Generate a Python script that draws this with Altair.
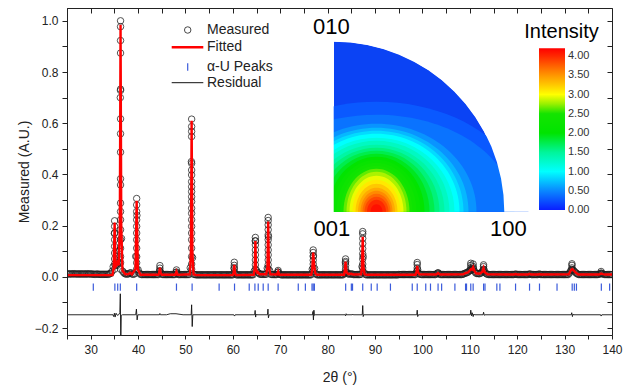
import math
import altair as alt
import pandas as pd

FONT = "Liberation Sans"

# ---------------- axis ticks ----------------
x_ticks = [25, 30, 35, 40, 45, 50, 55, 60, 65, 70, 75, 80, 85, 90, 95, 100,
           105, 110, 115, 120, 125, 130, 135, 140]
y_ticks = [-0.2, -0.1, 0.0, 0.1, 0.2, 0.3, 0.4, 0.5, 0.6, 0.7, 0.8, 0.9, 1.0]

# ---------------- measured scan: 0.25 deg steps, one row per 5 deg ----------------
scan_step = 0.25
scan_rows = {
    25.0: [0.011, 0.012, 0.011, 0.012, 0.011, 0.012, 0.012, 0.011, 0.012, 0.011,
           0.011, 0.012, 0.011, 0.011, 0.012, 0.011, 0.011, 0.012, 0.011, 0.012],
    30.0: [0.011, 0.011, 0.011, 0.010, 0.010, 0.011, 0.011, 0.010, 0.010, 0.010,
           0.010, 0.010, 0.010, 0.010, 0.010, 0.010, 0.012, 0.014, 0.022, 0.040],
    35.0: [0.170, 0.045, 0.050, 0.055, 0.100, 0.700, 0.150, 0.022, 0.016, 0.012,
           0.011, 0.011, 0.012, 0.015, 0.016, 0.011, 0.010, 0.012, 0.080, 0.240],
    40.0: [0.028, 0.015, 0.010, 0.009, 0.009, 0.009, 0.009, 0.009, 0.009, 0.009,
           0.009, 0.009, 0.009, 0.009, 0.009, 0.009, 0.009, 0.009, 0.022, 0.018],
    45.0: [0.010, 0.009, 0.009, 0.009, 0.009, 0.009, 0.009, 0.009, 0.009, 0.009,
           0.009, 0.009, 0.017, 0.013, 0.009, 0.009, 0.009, 0.009, 0.009, 0.009],
    50.0: [0.009, 0.009, 0.009, 0.009, 0.035, 0.450, 0.075, 0.010, 0.009, 0.008,
           0.008, 0.008, 0.008, 0.008, 0.008, 0.008, 0.008, 0.008, 0.008, 0.008],
    55.0: [0.008, 0.008, 0.008, 0.008, 0.008, 0.008, 0.008, 0.008, 0.008, 0.008,
           0.008, 0.008, 0.008, 0.008, 0.008, 0.008, 0.008, 0.008, 0.008, 0.008],
    60.0: [0.008, 0.035, 0.012, 0.008, 0.008, 0.008, 0.008, 0.008, 0.008, 0.008,
           0.008, 0.008, 0.008, 0.008, 0.008, 0.008, 0.008, 0.008, 0.022, 0.140],
    65.0: [0.025, 0.017, 0.014, 0.010, 0.010, 0.010, 0.010, 0.010, 0.010, 0.034,
           0.157, 0.025, 0.010, 0.009, 0.009, 0.009, 0.009, 0.009, 0.019, 0.011],
    70.0: [0.009, 0.008, 0.008, 0.008, 0.008, 0.008, 0.008, 0.008, 0.008, 0.008,
           0.008, 0.008, 0.008, 0.008, 0.008, 0.008, 0.008, 0.008, 0.008, 0.008],
    75.0: [0.008, 0.008, 0.008, 0.008, 0.008, 0.008, 0.008, 0.030, 0.082, 0.033,
           0.012, 0.008, 0.008, 0.008, 0.008, 0.008, 0.008, 0.008, 0.008, 0.008],
    80.0: [0.008, 0.008, 0.008, 0.008, 0.008, 0.008, 0.008, 0.008, 0.008, 0.008,
           0.008, 0.008, 0.008, 0.008, 0.013, 0.055, 0.018, 0.012, 0.011, 0.011],
    85.0: [0.012, 0.010, 0.009, 0.009, 0.009, 0.009, 0.009, 0.009, 0.010, 0.040,
           0.079, 0.016, 0.009, 0.008, 0.008, 0.008, 0.008, 0.008, 0.008, 0.008],
    90.0: [0.008, 0.008, 0.008, 0.008, 0.008, 0.008, 0.008, 0.008, 0.008, 0.008,
           0.008, 0.008, 0.008, 0.008, 0.008, 0.008, 0.008, 0.008, 0.008, 0.008],
    95.0: [0.009, 0.009, 0.009, 0.009, 0.009, 0.009, 0.009, 0.009, 0.009, 0.009,
           0.009, 0.009, 0.009, 0.009, 0.009, 0.020, 0.028, 0.013, 0.010, 0.009],
    100.0: [0.009, 0.009, 0.009, 0.009, 0.009, 0.009, 0.009, 0.009, 0.009, 0.009,
            0.009, 0.009, 0.012, 0.015, 0.012, 0.009, 0.009, 0.009, 0.009, 0.009],
    105.0: [0.009, 0.009, 0.009, 0.009, 0.009, 0.009, 0.009, 0.009, 0.009, 0.009,
            0.009, 0.009, 0.009, 0.009, 0.010, 0.012, 0.014, 0.016, 0.017, 0.021],
    110.0: [0.025, 0.030, 0.029, 0.034, 0.022, 0.015, 0.013, 0.013, 0.012, 0.014,
            0.018, 0.025, 0.028, 0.016, 0.012, 0.010, 0.009, 0.009, 0.009, 0.009],
    115.0: [0.009, 0.009, 0.009, 0.009, 0.009, 0.009, 0.009, 0.009, 0.009, 0.009,
            0.009, 0.009, 0.009, 0.009, 0.009, 0.009, 0.009, 0.009, 0.010, 0.011],
    120.0: [0.009, 0.009, 0.009, 0.009, 0.009, 0.009, 0.009, 0.009, 0.009, 0.009,
            0.011, 0.011, 0.009, 0.009, 0.009, 0.009, 0.009, 0.009, 0.010, 0.011],
    125.0: [0.009, 0.009, 0.009, 0.009, 0.009, 0.009, 0.009, 0.009, 0.009, 0.009,
            0.009, 0.009, 0.009, 0.009, 0.009, 0.009, 0.009, 0.009, 0.009, 0.009],
    130.0: [0.009, 0.009, 0.009, 0.009, 0.015, 0.023, 0.029, 0.027, 0.023, 0.018,
            0.014, 0.011, 0.009, 0.009, 0.009, 0.009, 0.009, 0.009, 0.009, 0.009],
    135.0: [0.009, 0.009, 0.009, 0.009, 0.009, 0.009, 0.009, 0.009, 0.009, 0.010,
            0.012, 0.013, 0.012, 0.010, 0.009, 0.009, 0.009, 0.009, 0.009, 0.009],
    140.0: [0.009],
}

# measured points stacked on the narrow peaks
stack_x = [35.05, 35.6, 36.3, 39.7, 44.6, 48.1, 51.3, 60.3, 64.75, 67.45, 69.55,
           76.95, 83.78, 87.4, 98.9, 103.3, 110.2, 110.7, 112.9, 131.55, 137.7]
stack_y = [
    [0.219, 0.197, 0.171, 0.145, 0.119, 0.093, 0.070, 0.050, 0.030],
    [0.080, 0.062, 0.045],
    [1.000, 0.977, 0.923, 0.874, 0.733, 0.728, 0.617, 0.559, 0.487, 0.383,
     0.359, 0.288, 0.255, 0.223, 0.184, 0.145, 0.112, 0.079, 0.055, 0.030],
    [0.306, 0.281, 0.255, 0.223, 0.197, 0.171, 0.145, 0.112, 0.079, 0.055, 0.030],
    [0.044, 0.034, 0.024],
    [0.027, 0.019],
    [0.616, 0.587, 0.568, 0.548, 0.443, 0.417, 0.398, 0.372, 0.352, 0.333, 0.313,
     0.294, 0.268, 0.248, 0.223, 0.197, 0.171, 0.145, 0.112, 0.079, 0.050, 0.030],
    [0.057, 0.045, 0.032, 0.020],
    [0.154, 0.141, 0.125, 0.105, 0.086, 0.066, 0.047, 0.030],
    [0.232, 0.220, 0.203, 0.184, 0.164, 0.145, 0.125, 0.105, 0.086, 0.066, 0.047, 0.030],
    [0.025, 0.018],
    [0.105, 0.095, 0.080, 0.065, 0.050, 0.035, 0.022],
    [0.070, 0.060, 0.045, 0.030, 0.020],
    [0.177, 0.168, 0.150, 0.130, 0.110, 0.090, 0.070, 0.050, 0.035, 0.020],
    [0.056, 0.048, 0.035, 0.022],
    [0.016],
    [0.053, 0.045, 0.035, 0.025],
    [0.050, 0.040, 0.030],
    [0.047, 0.040, 0.030, 0.020],
    [0.051, 0.045, 0.035, 0.025],
    [0.021, 0.015],
]

# ---------------- fitted profile (vertices) ----------------
fitted_pts = [
    (25.0, 0.007), (34.6, 0.007), (34.85, 0.035), (35.05, 0.212), (35.25, 0.040),
    (35.45, 0.045), (35.65, 0.055), (35.9, 0.045), (36.15, 0.200), (36.3, 0.985),
    (36.45, 0.200), (36.7, 0.025), (37.3, 0.010), (38.0, 0.011), (38.35, 0.016),
    (38.7, 0.010), (39.45, 0.030), (39.7, 0.297), (39.95, 0.030), (40.5, 0.008),
    (44.3, 0.008), (44.45, 0.015), (44.6, 0.036), (44.75, 0.015), (45.0, 0.008),
    (47.85, 0.008), (48.1, 0.021), (48.35, 0.008),
    (50.95, 0.010), (51.15, 0.100), (51.3, 0.610), (51.45, 0.100), (51.7, 0.010), (52.3, 0.007),
    (60.0, 0.007), (60.15, 0.015), (60.3, 0.047), (60.45, 0.015), (60.65, 0.007),
    (64.4, 0.008), (64.6, 0.030), (64.75, 0.140), (64.9, 0.030), (65.15, 0.016),
    (65.35, 0.018), (65.6, 0.010),
    (67.05, 0.010), (67.3, 0.040), (67.45, 0.216), (67.6, 0.040), (67.9, 0.010),
    (69.3, 0.009), (69.55, 0.021), (69.8, 0.008),
    (76.55, 0.008), (76.75, 0.030), (76.95, 0.095), (77.15, 0.045), (77.4, 0.014), (77.7, 0.008),
    (83.45, 0.008), (83.62, 0.025), (83.78, 0.060), (83.95, 0.020), (84.3, 0.011),
    (85.0, 0.012), (85.4, 0.009),
    (87.05, 0.010), (87.25, 0.040), (87.4, 0.157), (87.55, 0.040), (87.8, 0.010), (88.3, 0.008),
    (98.55, 0.008), (98.75, 0.020), (98.9, 0.043), (99.05, 0.020), (99.35, 0.010),
    (102.9, 0.009), (103.3, 0.015), (103.7, 0.009),
    (108.6, 0.010), (109.1, 0.015), (109.6, 0.017), (110.0, 0.025), (110.25, 0.030),
    (110.45, 0.028), (110.7, 0.038), (110.95, 0.024), (111.3, 0.014), (112.1, 0.012),
    (112.65, 0.020), (112.9, 0.034), (113.15, 0.018), (113.7, 0.010),
    (119.3, 0.009), (119.65, 0.011), (120.0, 0.009), (122.3, 0.009), (122.6, 0.012),
    (122.9, 0.009), (124.4, 0.009), (124.7, 0.011), (125.0, 0.009),
    (130.9, 0.010), (131.3, 0.025), (131.6, 0.030), (131.95, 0.024), (132.45, 0.015), (132.9, 0.009),
    (137.3, 0.009), (137.7, 0.013), (138.1, 0.011), (138.6, 0.009), (140.0, 0.009),
]

# ---------------- residual (measured - fitted, offset) ----------------
residual_pts = [
    (25.0, -0.148), (34.7, -0.148), (34.85, -0.155), (35.0, -0.142), (35.15, -0.157),
    (35.35, -0.142), (35.6, -0.150), (35.9, -0.148), (36.15, -0.140), (36.25, -0.066),
    (36.35, -0.260), (36.45, -0.150), (36.7, -0.148),
    (39.5, -0.148), (39.65, -0.126), (39.8, -0.168), (39.95, -0.148),
    (44.5, -0.148), (44.6, -0.143), (44.7, -0.148),
    (46.0, -0.148), (46.8, -0.144), (48.0, -0.144), (49.5, -0.148),
    (51.2, -0.148), (51.3, -0.109), (51.42, -0.194), (51.55, -0.148),
    (60.2, -0.148), (60.35, -0.153), (60.5, -0.148),
    (64.6, -0.148), (64.7, -0.131), (64.8, -0.157), (64.95, -0.145), (65.1, -0.148),
    (67.3, -0.148), (67.4, -0.126), (67.5, -0.160), (67.65, -0.148),
    (76.8, -0.148), (76.9, -0.135), (77.0, -0.168), (77.1, -0.130), (77.2, -0.150), (77.35, -0.148),
    (83.7, -0.148), (83.8, -0.152), (83.9, -0.144), (84.0, -0.148),
    (85.2, -0.148), (85.3, -0.145), (85.4, -0.148),
    (87.3, -0.148), (87.4, -0.112), (87.5, -0.155), (87.6, -0.148),
    (98.8, -0.148), (98.9, -0.130), (99.0, -0.155), (99.15, -0.148),
    (110.1, -0.148), (110.2, -0.130), (110.35, -0.152), (110.5, -0.140), (110.7, -0.155),
    (110.85, -0.145), (111.0, -0.148),
    (112.8, -0.148), (112.9, -0.138), (113.05, -0.150), (113.2, -0.148),
    (131.4, -0.148), (131.5, -0.140), (131.65, -0.155), (131.8, -0.145), (131.95, -0.148),
    (137.6, -0.148), (137.7, -0.153), (137.85, -0.148), (140.0, -0.148),
]

# ---------------- alpha-U reflection positions ----------------
alpha_u_peaks = [30.55, 35.1, 35.7, 36.25, 39.7, 48.1, 51.4, 57.1, 60.35, 63.45, 64.65,
                 65.35, 66.4, 67.45, 69.55, 73.8, 75.3, 76.7, 76.95, 77.2, 83.8, 85.0,
                 85.25, 87.4, 89.2, 90.45, 93.25, 97.85, 98.9, 100.7, 101.7, 103.3,
                 104.05, 106.85, 109.1, 109.3, 110.2, 110.7, 112.9, 113.2, 115.7,
                 116.35, 119.65, 122.6, 124.7, 128.4, 131.6, 132.05, 132.5, 137.75, 139.5]

# ---------------- inverse pole figure: contour half-widths around the maximum ----------------
# (horizontal / vertical half-extent of each intensity contour, read in px on a 170 px radius)
pf_levels = [0.28, 0.40, 0.55, 0.70, 0.85, 1.00, 1.15, 1.30, 1.45, 1.60, 1.75, 1.90, 2.05,
             2.20, 2.35, 2.50, 2.65, 2.80, 2.95, 3.10, 3.25, 3.40, 3.55, 3.70, 3.85, 4.00, 4.12]
pf_rx_px = [152, 138, 100, 92, 87, 83, 78, 73, 68, 63, 58, 53, 48,
            44, 40, 36, 33, 30, 27, 24, 21, 18.5, 16, 14, 12, 9.5, 6]
pf_ry_px = [110, 97, 88, 84, 81, 78, 74, 71, 67, 64, 61, 58, 55,
            52, 49, 46, 43, 40, 36, 32, 28, 24, 21, 18, 15, 12, 7.5]
pf_peak_pos = 0.25          # maximum lies on the 001-100 edge (fraction of radius)

cb_values = [0.0, 0.5, 1.0, 1.5, 2.0, 2.5, 2.75, 3.0, 3.25, 3.5, 3.75, 4.0, 4.2]
cb_colors = ["#0a1eff", "#0a88ff", "#00ffff", "#00f59a", "#00e400", "#14e400",
             "#96f000", "#ffff00", "#ffc800", "#ff9600", "#ff6000", "#ff2800", "#ff0000"]
cb_ticks = [0.0, 0.5, 1.0, 1.5, 2.0, 2.5, 3.0, 3.5, 4.0]

# ---------------- layout constants (pixels inside plot area) ----------------
W, H = 545, 327
CX, CY, R = 267.0, 203.7, 170.0          # pole figure corner (001) and radius
PX = CX + pf_peak_pos * R
CB_X0, CB_X1, CB_BOTTOM, CB_TOP = 472, 498, 202.0, 40.3

# ---------------- tables ----------------
meas_x, meas_y = [], []
for start, row in scan_rows.items():
    meas_x += [start + scan_step * i for i in range(len(row))]
    meas_y += row
for sx, ys in zip(stack_x, stack_y):
    meas_x += [sx] * len(ys)
    meas_y += ys
meas_df = pd.DataFrame({"tt": meas_x, "val": meas_y})
fit_df = pd.DataFrame(fitted_pts, columns=["tt", "val"])
res_df = pd.DataFrame(residual_pts, columns=["tt", "val"])
peak_df = pd.DataFrame({"tt": alpha_u_peaks})

pf_df = pd.DataFrame({
    "level": pf_levels,
    "path": [f"M{-a / 170:.4f},0A{a / 170:.4f},{b / 170:.4f},0,0,1,{a / 170:.4f},0Z"
             for a, b in zip(pf_rx_px, pf_ry_px)],
})
cb_df = pd.DataFrame({"lo": [cb_values[0]], "hi": [cb_values[-1]]})
cbt_df = pd.DataFrame({"v": cb_ticks})
one = pd.DataFrame({"k": [0]})

X_SCALE = alt.Scale(domain=[25, 140], nice=False, zero=False)
Y_SCALE = alt.Scale(domain=[-0.227, 1.05], nice=False, zero=False)
INK = "#222222"

bottom_axis = alt.Axis(orient="bottom", values=x_ticks,
                       labelExpr="datum.value % 10 == 0 ? datum.label : ''",
                       title="2θ (°)", tickSize=4, labelPadding=5, labelFontSize=12,
                       titleFontSize=14, titlePadding=15, titleFontWeight="normal",
                       grid=False, domainColor=INK, tickColor=INK, labelColor=INK,
                       titleColor=INK, labelFlush=False, labelOverlap=False, zindex=1)
left_axis = alt.Axis(orient="left", values=y_ticks, format=".1f",
                     labelExpr="abs(round(datum.value * 10)) % 2 == 0 ? datum.label : ''",
                     title="Measured (A.U.)", tickSize=5, labelPadding=4, labelFontSize=12,
                     titleFontSize=14, titlePadding=3, titleFontWeight="normal",
                     grid=False, domainColor=INK, tickColor=INK, labelColor=INK,
                     titleColor=INK, labelFlush=False, labelOverlap=False, zindex=1)
top_axis = alt.Axis(orient="top", values=x_ticks, labels=False, domain=False, tickSize=5,
                    offset=-5, title=None, grid=False, tickColor=INK, zindex=1)
right_axis = alt.Axis(orient="right", values=y_ticks, labels=False, domain=False, tickSize=5,
                      offset=-5, title=None, grid=False, tickColor=INK, zindex=1)

measured = alt.Chart(meas_df).mark_point(
    shape="circle", size=42, filled=False, stroke="#1e1e1e", strokeWidth=0.9,
    opacity=0.85, clip=True
).encode(
    x=alt.X("tt:Q", scale=X_SCALE, axis=bottom_axis),
    y=alt.Y("val:Q", scale=Y_SCALE, axis=left_axis),
)
fitted = alt.Chart(fit_df).mark_line(color="#ff0000", strokeWidth=2.4, clip=True).encode(
    x=alt.X("tt:Q", scale=X_SCALE, axis=top_axis),
    y=alt.Y("val:Q", scale=Y_SCALE, axis=right_axis),
)
peaks = alt.Chart(peak_df).mark_rule(color="#3b5bdb", strokeWidth=1.2).encode(
    x=alt.X("tt:Q", scale=X_SCALE, axis=None),
    y=alt.YDatum(-0.026, axis=None),
    y2=alt.Y2Datum(-0.054),
)
residual = alt.Chart(res_df).mark_line(color="#111111", strokeWidth=0.9, clip=True).encode(
    x=alt.X("tt:Q", scale=X_SCALE, axis=None),
    y=alt.Y("val:Q", scale=Y_SCALE, axis=None),
)
main = alt.layer(measured, fitted, peaks, residual)

# ---------------- inset ----------------
CSCALE = alt.Scale(domain=cb_values, range=cb_colors, interpolate="rgb", nice=False, zero=False)

quarter = alt.Chart(one).mark_arc(
    theta=0, theta2=math.pi / 2, radius=R, color="#0b43f4"
).encode(x=alt.value(CX), y=alt.value(CY))

contours = alt.Chart(pf_df).mark_point(
    filled=True, size=(2 * R) ** 2, opacity=1, strokeWidth=0
).encode(
    x=alt.value(PX), y=alt.value(CY),
    shape=alt.Shape("path:N", scale=None, legend=None),
    color=alt.Color("level:Q", scale=CSCALE, legend=None),
    order=alt.Order("level:Q"),
)
mask_ring = alt.Chart(one).mark_arc(
    theta=0, theta2=math.pi / 2, radius=R + 28, radius2=R + 0.3, color="white"
).encode(x=alt.value(CX), y=alt.value(CY))
mask_left = alt.Chart(one).mark_rect(color="white").encode(
    x=alt.value(CX - 120), x2=alt.value(CX - 0.3), y=alt.value(CY - 115), y2=alt.value(CY + 0.3)
)

CB_SCALE = alt.Scale(domain=[cb_values[0], cb_values[-1]], range=[CB_BOTTOM, CB_TOP],
                     nice=False, zero=False)
grad = alt.Gradient(
    gradient="linear", x1=0, x2=0, y1=1, y2=0,
    stops=[alt.GradientStop(offset=v / cb_values[-1], color=c) for v, c in zip(cb_values, cb_colors)],
)
cbar = alt.Chart(cb_df).mark_rect(fill=grad, strokeWidth=0).encode(
    x=alt.value(CB_X0), x2=alt.value(CB_X1),
    y=alt.Y("lo:Q", scale=CB_SCALE, axis=None), y2="hi:Q",
)
cbar_labels = alt.Chart(cbt_df).mark_text(
    align="left", baseline="middle", fontSize=11, font=FONT, color="#333333"
).encode(
    x=alt.value(CB_X1 + 3), y=alt.Y("v:Q", scale=CB_SCALE, axis=None),
    text=alt.Text("v:Q", format=".2f"),
)


def note(text, x, y, size, align="left", color="#000000"):
    return alt.Chart(pd.DataFrame({"t": [text]})).mark_text(
        align=align, baseline="middle", fontSize=size, font=FONT, color=color
    ).encode(x=alt.value(x), y=alt.value(y), text="t:N")


inset = alt.layer(
    quarter, contours, mask_ring, mask_left, cbar, cbar_labels,
    note("010", 246, 19, 22), note("001", 246.5, 220.5, 22), note("100", 423, 220.5, 22),
    note("Intensity", 494.5, 24, 20, align="center"),
)

# ---------------- legend ----------------
leg_circle = alt.Chart(one).mark_point(
    shape="circle", size=42, filled=False, stroke="#333333", strokeWidth=0.9, opacity=1
).encode(x=alt.value(120.7), y=alt.value(22))
leg_fit = alt.Chart(one).mark_rule(color="#ff0000", strokeWidth=2.4).encode(
    x=alt.value(104.7), x2=alt.value(136.3), y=alt.value(39.3))
leg_tick = alt.Chart(one).mark_rule(color="#3b5bdb", strokeWidth=1.2).encode(
    x=alt.value(120.7), y=alt.value(55.3), y2=alt.value(62.7))
leg_res = alt.Chart(one).mark_rule(color="#111111", strokeWidth=1).encode(
    x=alt.value(104.7), x2=alt.value(136.3), y=alt.value(74.7))

legend = alt.layer(
    leg_circle, leg_fit, leg_tick, leg_res,
    note("Measured", 140, 22, 14, color=INK), note("Fitted", 140, 39.3, 14, color=INK),
    note("α-U Peaks", 140, 58.7, 14, color=INK), note("Residual", 140, 74.7, 14, color=INK),
)

chart = alt.layer(inset, main, legend).resolve_scale(
    y="independent", color="independent"
).properties(
    width=W, height=H,
    autosize=alt.AutoSizeParams(type="none"),
    padding={"left": 59, "top": 0, "right": 12, "bottom": 55},
).configure(font=FONT).configure_view(stroke=INK, strokeWidth=1)

chart.save("out.html", embed_options={"renderer": "svg", "actions": False})
